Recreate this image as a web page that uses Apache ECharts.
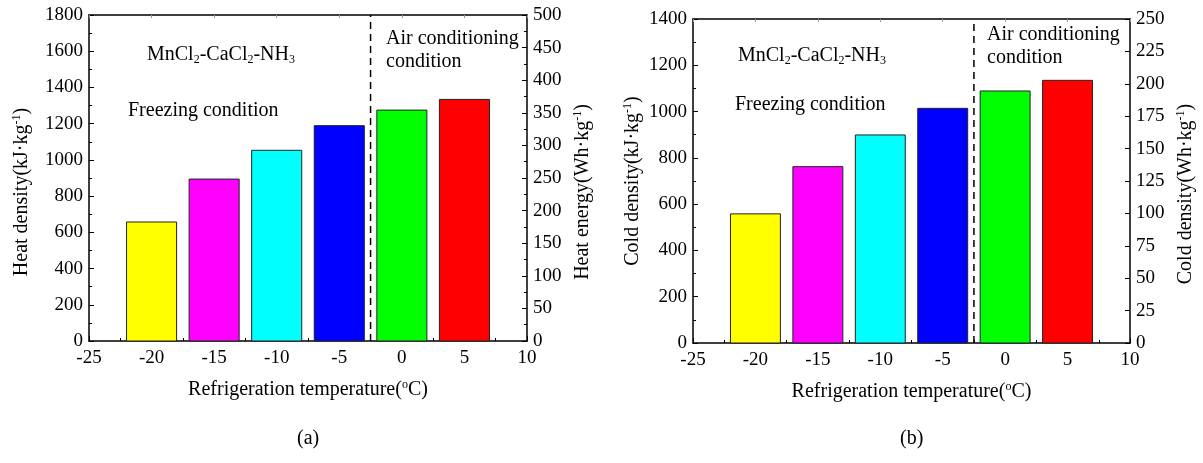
<!DOCTYPE html>
<html>
<head>
<meta charset="utf-8">
<script src="https://cdn.jsdelivr.net/npm/echarts@6/dist/echarts.min.js"></script>
<style>
  html, body { margin: 0; padding: 0; background: #fff; }
  #chart { width: 1203px; height: 463px; }
</style>
</head>
<body>
<div id="chart"></div>
<script>
// data
var temps = [-20, -15, -10, -5, 0, 5];
var heatDensity = [657, 894, 1053, 1189, 1275, 1334];   // kJ/kg
var coldDensity = [558, 762, 899, 1014, 1089, 1135];    // kJ/kg
var barColors = ['#ffff00', '#ff00ff', '#00ffff', '#0000ff', '#00ff00', '#ff0000'];
var dividerX = -2.5;

var FONT = 'Liberation Serif';
var barHalf = 2;

var chart = echarts.init(document.getElementById('chart'));

function pairs(xs, ys) {
    return xs.map(function(x, i) { return [x, ys[i]]; });
}

function renderBar(params, api) {
    var x = api.value(0), v = api.value(1);
    var p1 = api.coord([x - barHalf, v]);
    var p0 = api.coord([x + barHalf, 0]);
    return {
        type: 'rect',
        shape: { x: p1[0], y: p1[1], width: p0[0] - p1[0], height: p0[1] - p1[1] },
        style: { fill: barColors[params.dataIndex], stroke: '#222', lineWidth: 1 }
    };
}

var rich = {
    sup: { fontFamily: FONT, fontSize: 12, verticalAlign: 'top', padding: [0, 0, 9, 0], color: '#000' },
    sub: { fontFamily: FONT, fontSize: 12, padding: [9, 0, 0, 0], color: '#000' },
    n: { fontFamily: FONT, fontSize: 20, color: '#000' }
};

function plain(v) { return String(v); }

function xAxes(gi) {
    return [{
        gridIndex: gi, type: 'value', min: -25, max: 10, interval: 5,
        name: '{n|Refrigeration temperature(}{sup|o}{n|C)}',
        nameLocation: 'middle', nameGap: 38,
        nameTextStyle: { rich: rich },
        axisLine: { onZero: false, lineStyle: { color: '#000', width: 1.5 } },
        axisTick: { inside: true, length: 5, lineStyle: { color: '#000' } },
        minorTick: { show: true, splitNumber: 2, length: 3, lineStyle: { color: '#000' } },
        axisLabel: { color: '#000', fontFamily: FONT, fontSize: 19, margin: 8, formatter: plain },
        splitLine: { show: false }
    }, {
        gridIndex: gi, type: 'value', position: 'top', min: -25, max: 10, interval: 5,
        axisLine: { onZero: false, lineStyle: { color: '#000', width: 1.5 } },
        axisTick: { inside: true, length: 3, lineStyle: { color: '#999' } },
        axisLabel: { show: false },
        splitLine: { show: false }
    }];
}

function yAxis(gi, pos, max, interval, minorSplit, nameStr, gap, shift) {
    return {
        gridIndex: gi, type: 'value', position: pos, min: 0, max: max, interval: interval,
        name: nameStr, nameLocation: 'middle', nameGap: gap, nameRotate: 90,
        nameTextStyle: { rich: rich, padding: [0, shift, 0, 0] },
        axisLine: { show: true, onZero: false, lineStyle: { color: '#000', width: 1.5 } },
        axisTick: { show: true, inside: true, length: 5, lineStyle: { color: '#000' } },
        minorTick: { show: minorSplit > 0, splitNumber: minorSplit || 1, length: 3, lineStyle: { color: '#000' } },
        axisLabel: { color: '#000', fontFamily: FONT, fontSize: 19, margin: 6, formatter: plain },
        splitLine: { show: false }
    };
}

function annText(x, y, parts) {
    return {
        type: 'text', left: x, top: y,
        style: { rich: rich, text: parts, fontFamily: FONT, fontSize: 20, fill: '#000' }
    };
}

var option = {
    animation: false,
    grid: [
        { left: 89, top: 15, width: 438, height: 326 },
        { left: 693, top: 19, width: 437, height: 324 }
    ],
    xAxis: xAxes(0).concat(xAxes(1)),
    yAxis: [
        yAxis(0, 'left', 1800, 200, 2, '{n|Heat density(kJ·kg}{sup|-1}{n|)}', 57, 28),
        yAxis(0, 'right', 500, 50, 2, '{n|Heat energy(Wh·kg}{sup|-1}{n|)}', 45, 28),
        yAxis(1, 'left', 1400, 200, 2, '{n|Cold density(kJ·kg}{sup|-1}{n|)}', 50, 0),
        yAxis(1, 'right', 250, 25, 0, '{n|Cold density(Wh·kg}{sup|-1}{n|)}', 45, 26)
    ],
    series: [{
        type: 'custom', xAxisIndex: 0, yAxisIndex: 0,
        renderItem: renderBar, data: pairs(temps, heatDensity)
    }, {
        type: 'line', xAxisIndex: 0, yAxisIndex: 0, symbol: 'none',
        lineStyle: { color: '#000', width: 1.5, type: [7, 5] },
        data: [[dividerX, 0], [dividerX, 1800]]
    }, {
        type: 'custom', xAxisIndex: 2, yAxisIndex: 2,
        renderItem: renderBar, data: pairs(temps, coldDensity)
    }, {
        type: 'line', xAxisIndex: 2, yAxisIndex: 2, symbol: 'none',
        lineStyle: { color: '#000', width: 1.5, type: [7, 5] },
        data: [[dividerX, 0], [dividerX, 1400]]
    }],
    graphic: [
        annText(147, 45, '{n|MnCl}{sub|2}{n|-CaCl}{sub|2}{n|-NH}{sub|3}'),
        annText(128, 101, '{n|Freezing condition}'),
        annText(386, 29, '{n|Air conditioning}'),
        annText(386, 52, '{n|condition}'),
        annText(738, 46, '{n|MnCl}{sub|2}{n|-CaCl}{sub|2}{n|-NH}{sub|3}'),
        annText(735, 95, '{n|Freezing condition}'),
        annText(987, 25, '{n|Air conditioning}'),
        annText(987, 48, '{n|condition}'),
        { type: 'text', left: 297, top: 429, style: { text: '(a)', fontFamily: FONT, fontSize: 20, fill: '#000' } },
        { type: 'text', left: 900, top: 429, style: { text: '(b)', fontFamily: FONT, fontSize: 20, fill: '#000' } }
    ]
};

chart.setOption(option);
</script>
</body>
</html>
